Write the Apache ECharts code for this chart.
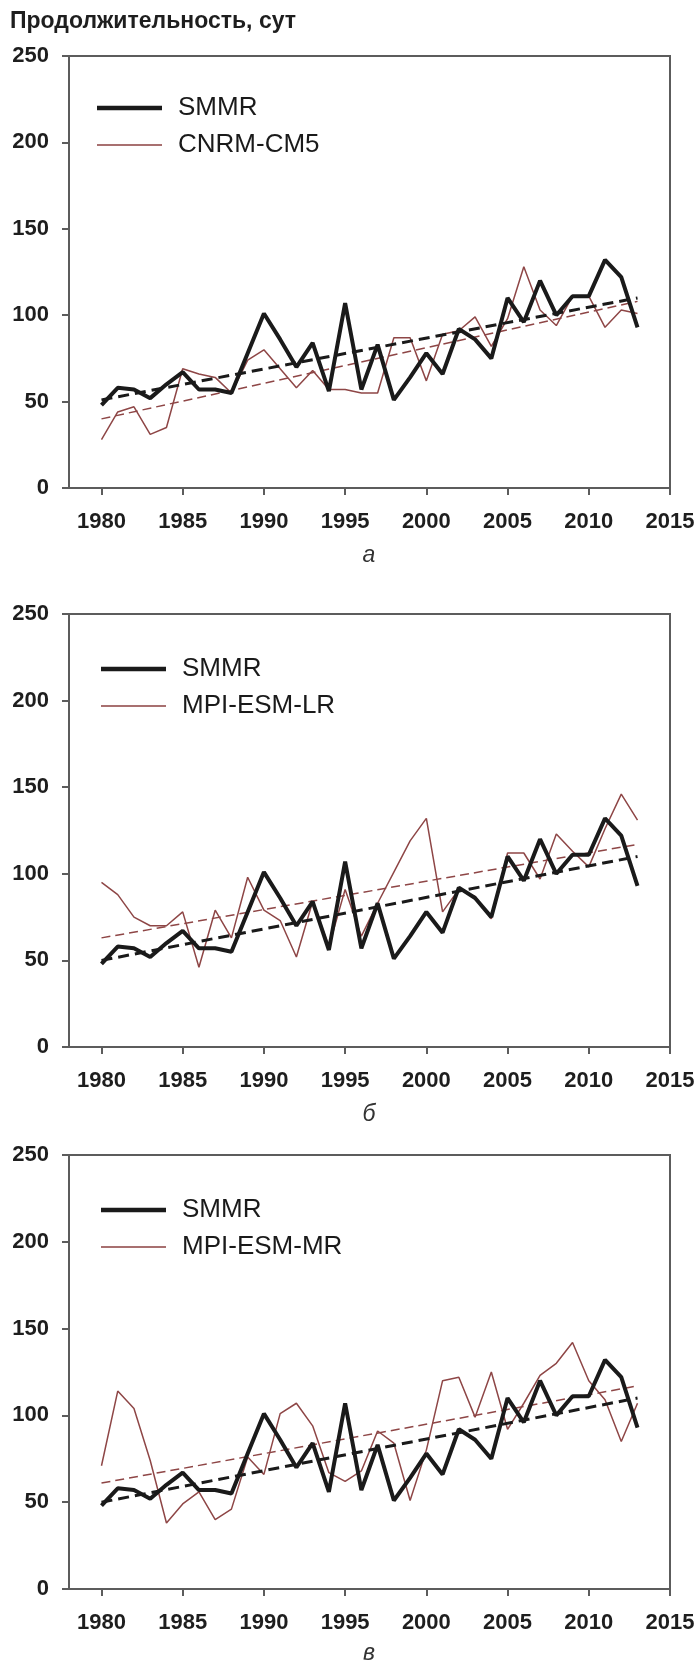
<!DOCTYPE html>
<html>
<head>
<meta charset="utf-8">
<script src="https://cdn.jsdelivr.net/npm/echarts@6/dist/echarts.min.js"></script>
<style>
  html, body { margin: 0; padding: 0; background: #fff; }
  #chart { width: 700px; height: 1664px; }
</style>
</head>
<body>
<div id="chart"></div>
<script>
// годы наблюдений
var years = [1980, 1981, 1982, 1983, 1984, 1985, 1986, 1987, 1988, 1989,
  1990, 1991, 1992, 1993, 1994, 1995, 1996, 1997, 1998, 1999,
  2000, 2001, 2002, 2003, 2004, 2005, 2006, 2007, 2008, 2009,
  2010, 2011, 2012, 2013];

// продолжительность, сут
var smmr = [48, 58, 57, 52, 60, 67, 57, 57, 55, 78,
  101, 86, 70, 84, 56, 107, 57, 83, 51, 64,
  78, 66, 92, 86, 75, 110, 96, 120, 100, 111,
  111, 132, 122, 93];
var cnrm = [28, 44, 47, 31, 35, 69, 66, 64, 55, 74,
  80, 69, 58, 68, 57, 57, 55, 55, 87, 87,
  62, 89, 91, 99, 82, 98, 128, 103, 94, 111,
  111, 93, 103, 101];
var mpiLR = [95, 88, 75, 70, 70, 78, 46, 79, 63, 98,
  79, 73, 52, 84, 58, 91, 64, 83, 101, 119,
  132, 78, 91, 87, 74, 112, 112, 97, 123, 113,
  104, 126, 146, 131];
var mpiMR = [71, 114, 104, 74, 38, 49, 56, 40, 46, 76,
  66, 101, 107, 94, 67, 62, 68, 91, 84, 51,
  80, 120, 122, 99, 125, 92, 107, 123, 130, 142,
  120, 109, 85, 107];

// линейные тренды (значения на концах)
var trendYears = [1980, 2013];
var smmrTrend1 = [51, 110];
var cnrmTrend = [40, 108];
var smmrTrend2 = [50, 110];
var mpiLRTrend = [63, 117];
var smmrTrend3 = [50, 110];
var mpiMRTrend = [61, 117];

var xTicks = [1980, 1985, 1990, 1995, 2000, 2005, 2010, 2015];
var yTicks = [0, 50, 100, 150, 200, 250];

var panels = [
  { model: 'CNRM-CM5', values: cnrm, trend: cnrmTrend, smmrTrend: smmrTrend1, top: 56, height: 432, legendTop: 94, legendLeft: 97, letter: 'а', letterTop: 544 },
  { model: 'MPI-ESM-LR', values: mpiLR, trend: mpiLRTrend, smmrTrend: smmrTrend2, top: 614, height: 433, legendTop: 655, legendLeft: 101, letter: 'б', letterTop: 1103 },
  { model: 'MPI-ESM-MR', values: mpiMR, trend: mpiMRTrend, smmrTrend: smmrTrend3, top: 1155, height: 434, legendTop: 1196, legendLeft: 101, letter: 'в', letterTop: 1642 }
];

var brown = '#8e4646';
var legendBrown = '#a87070';
var black = '#1a1a1a';
var frame = '#5c5c5c';
var font = 'Liberation Sans, Arial, sans-serif';

function pairs(xs, ys) {
  return xs.map(function (x, i) { return [x, ys[i]]; });
}

var grids = [], xAxes = [], yAxes = [], series = [], legends = [];
var titles = [{
  text: 'Продолжительность, сут',
  left: 10, top: 10, padding: 0,
  textStyle: { fontFamily: font, fontSize: 23, fontWeight: 'bold', color: '#1e1e1e' }
}];

panels.forEach(function (p, i) {
  grids.push({ left: 69, top: p.top, width: 601, height: p.height, show: true, borderColor: frame, borderWidth: 2 });
  xAxes.push({
    type: 'value', gridIndex: i, min: 1978, max: 2015,
    splitLine: { show: false },
    axisLine: { lineStyle: { color: frame, width: 2 } },
    axisTick: { show: true, length: 7, customValues: xTicks, lineStyle: { color: frame, width: 2 } },
    axisLabel: {
      customValues: xTicks, margin: 23, fontFamily: font, fontSize: 22, fontWeight: 'bold', color: '#1e1e1e',
      formatter: function (v) { return String(v); }
    }
  });
  yAxes.push({
    type: 'value', gridIndex: i, min: 0, max: 250, interval: 50,
    splitLine: { show: false },
    axisLine: { show: true, lineStyle: { color: frame, width: 2 } },
    axisTick: { show: true, length: 7, lineStyle: { color: frame, width: 2 } },
    axisLabel: { customValues: yTicks, margin: 20, fontFamily: font, fontSize: 22, fontWeight: 'bold', color: '#1e1e1e' }
  });
  series.push({
    name: p.model, type: 'line', xAxisIndex: i, yAxisIndex: i,
    data: pairs(years, p.values), symbol: 'none', z: 2,
    lineStyle: { color: brown, width: 1.5 }, itemStyle: { color: brown }
  });
  series.push({
    name: p.model + ' тренд', type: 'line', xAxisIndex: i, yAxisIndex: i,
    data: pairs(trendYears, p.trend), symbol: 'none', z: 3,
    lineStyle: { color: brown, width: 1.5, type: [9, 5] }
  });
  series.push({
    name: 'SMMR', type: 'line', xAxisIndex: i, yAxisIndex: i,
    data: pairs(years, smmr), symbol: 'none', z: 4,
    lineStyle: { color: black, width: 4 }, itemStyle: { color: black }
  });
  series.push({
    name: 'SMMR тренд', type: 'line', xAxisIndex: i, yAxisIndex: i,
    data: pairs(trendYears, p.smmrTrend), symbol: 'none', z: 5,
    lineStyle: { color: black, width: 3, type: [11, 6] }
  });
  legends.push({
    data: [
      { name: 'SMMR', icon: 'path://M0,0L65,0L65,4.5L0,4.5Z', itemStyle: { color: black } },
      { name: p.model, icon: 'path://M0,0L65,0L65,2L0,2Z', itemStyle: { color: legendBrown } }
    ],
    orient: 'vertical', left: p.legendLeft, top: p.legendTop, padding: 0,
    itemWidth: 65, itemHeight: 14, itemGap: 9, selectedMode: false,
    textStyle: { fontFamily: font, fontSize: 26, color: black, lineHeight: 28, padding: [0, 0, 0, 11] }
  });
  titles.push({
    text: p.letter, left: 369, top: p.letterTop, textAlign: 'center', padding: 0,
    textStyle: { fontFamily: font, fontSize: 23, fontStyle: 'italic', fontWeight: 'normal', color: '#333' }
  });
});

var chart = echarts.init(document.getElementById('chart'));
chart.setOption({
  animation: false,
  title: titles,
  legend: legends,
  grid: grids,
  xAxis: xAxes,
  yAxis: yAxes,
  series: series
});
</script>
</body>
</html>
